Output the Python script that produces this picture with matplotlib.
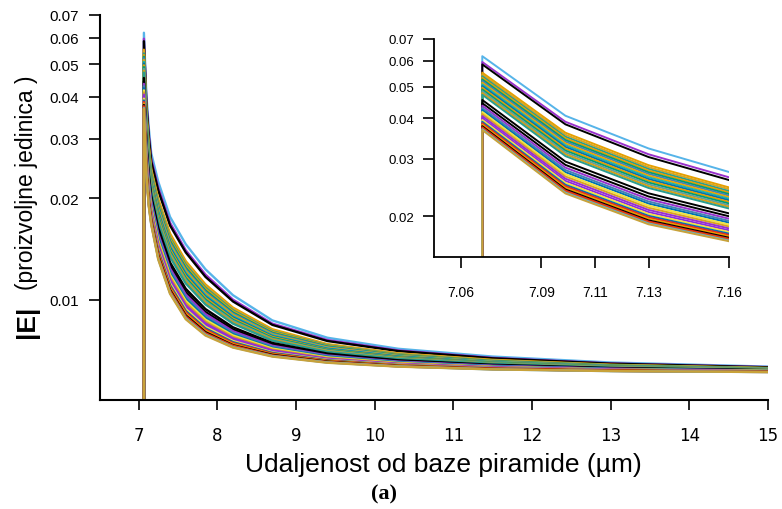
import matplotlib
matplotlib.use('Agg')
import matplotlib.pyplot as plt

# distance from the pyramid base (um); first point repeated: field is zero inside
x_um = [7.068, 7.068, 7.099, 7.13, 7.161, 7.25, 7.4, 7.6, 7.85, 8.2, 8.7, 9.4, 10.3, 11.5, 13.0, 15.0]

# |E| for each simulated case (arbitrary units)
field_curves = [
    [0.0, 0.0620, 0.0407, 0.0323, 0.0272, 0.0224, 0.0176, 0.0146, 0.0123, 0.0103, 0.00867, 0.00770, 0.00714, 0.00677, 0.00650, 0.00632],
    [0.0, 0.0595, 0.0390, 0.0310, 0.0262, 0.0215, 0.0169, 0.0140, 0.01186, 0.00999, 0.00848, 0.00758, 0.00706, 0.00671, 0.00646, 0.00630],
    [0.0, 0.0585, 0.0383, 0.0304, 0.0257, 0.0211, 0.0166, 0.0138, 0.01168, 0.00987, 0.00841, 0.00753, 0.00703, 0.00669, 0.00645, 0.00629],
    [0.0, 0.0552, 0.0361, 0.0287, 0.0244, 0.0199, 0.0157, 0.0130, 0.01109, 0.00946, 0.00816, 0.00737, 0.00692, 0.00662, 0.00640, 0.00626],
    [0.0, 0.0545, 0.0356, 0.0283, 0.0241, 0.01965, 0.01546, 0.01286, 0.01097, 0.00938, 0.00810, 0.00734, 0.00690, 0.00660, 0.00639, 0.00625],
    [0.0, 0.0538, 0.0351, 0.02794, 0.02378, 0.01939, 0.01526, 0.01269, 0.01084, 0.00929, 0.00805, 0.00731, 0.00687, 0.00658, 0.00638, 0.00625],
    [0.0, 0.0532, 0.03469, 0.02762, 0.02353, 0.01917, 0.01509, 0.01255, 0.01074, 0.00922, 0.00801, 0.00728, 0.00685, 0.00657, 0.00637, 0.00624],
    [0.0, 0.0526, 0.03428, 0.0273, 0.02328, 0.01895, 0.01491, 0.01241, 0.01063, 0.00914, 0.00796, 0.00725, 0.00683, 0.00656, 0.00636, 0.00623],
    [0.0, 0.0520, 0.03388, 0.02698, 0.02303, 0.01873, 0.01474, 0.01227, 0.01052, 0.00907, 0.00792, 0.00722, 0.00681, 0.00654, 0.00635, 0.00623],
    [0.0, 0.0514, 0.03347, 0.02666, 0.02278, 0.01851, 0.01457, 0.01214, 0.01042, 0.00900, 0.00787, 0.00719, 0.00680, 0.00653, 0.00634, 0.00622],
    [0.0, 0.0508, 0.03306, 0.02635, 0.02253, 0.01829, 0.01440, 0.01200, 0.01031, 0.00892, 0.00783, 0.00716, 0.00678, 0.00652, 0.00634, 0.00622],
    [0.0, 0.0502, 0.03265, 0.02602, 0.02228, 0.01807, 0.01423, 0.01186, 0.01020, 0.00885, 0.00778, 0.00713, 0.00676, 0.00650, 0.00633, 0.00621],
    [0.0, 0.0496, 0.03224, 0.02571, 0.02203, 0.01785, 0.01406, 0.01172, 0.01010, 0.00877, 0.00774, 0.00710, 0.00674, 0.00649, 0.00632, 0.00621],
    [0.0, 0.0490, 0.03183, 0.02539, 0.02178, 0.01763, 0.01389, 0.01158, 0.00999, 0.00870, 0.00769, 0.00708, 0.00672, 0.00648, 0.00631, 0.00620],
    [0.0, 0.0484, 0.03142, 0.02507, 0.02153, 0.01741, 0.01371, 0.01144, 0.00988, 0.00863, 0.00764, 0.00705, 0.00670, 0.00646, 0.00630, 0.00620],
    [0.0, 0.0478, 0.03101, 0.02475, 0.02128, 0.01719, 0.01354, 0.01130, 0.00978, 0.00855, 0.00760, 0.00702, 0.00668, 0.00645, 0.00629, 0.00619],
    [0.0, 0.0472, 0.03060, 0.02443, 0.02103, 0.01697, 0.01337, 0.01116, 0.00967, 0.00848, 0.00755, 0.00699, 0.00666, 0.00644, 0.00628, 0.00618],
    [0.0, 0.0455, 0.02944, 0.02353, 0.02032, 0.01635, 0.01289, 0.01076, 0.00937, 0.00827, 0.00743, 0.00691, 0.00660, 0.00640, 0.00626, 0.00617],
    [0.0, 0.0445, 0.02876, 0.02300, 0.01991, 0.01598, 0.01260, 0.01053, 0.00919, 0.00815, 0.00735, 0.00686, 0.00657, 0.00637, 0.00624, 0.00616],
    [0.0, 0.0437, 0.02821, 0.02257, 0.01957, 0.01569, 0.01237, 0.01034, 0.00905, 0.00805, 0.00729, 0.00682, 0.00654, 0.00636, 0.00623, 0.00615],
    [0.0, 0.0430, 0.02773, 0.02220, 0.01928, 0.01543, 0.01217, 0.01018, 0.00892, 0.00796, 0.00724, 0.00679, 0.00652, 0.00634, 0.00622, 0.00615],
    [0.0, 0.0424, 0.02732, 0.02188, 0.01903, 0.01521, 0.01200, 0.01004, 0.00882, 0.00789, 0.00719, 0.00676, 0.00650, 0.00633, 0.00621, 0.00614],
    [0.0, 0.0418, 0.02691, 0.02156, 0.01878, 0.01499, 0.01183, 0.00990, 0.00871, 0.00782, 0.00715, 0.00673, 0.00648, 0.00631, 0.00620, 0.00614],
    [0.0, 0.0412, 0.02650, 0.02124, 0.01853, 0.01477, 0.01166, 0.00976, 0.00860, 0.00774, 0.00710, 0.00670, 0.00646, 0.00630, 0.00619, 0.00613],
    [0.0, 0.0406, 0.02609, 0.02092, 0.01828, 0.01455, 0.01149, 0.00962, 0.00850, 0.00767, 0.00706, 0.00667, 0.00644, 0.00629, 0.00619, 0.00612],
    [0.0, 0.0400, 0.02568, 0.02060, 0.01803, 0.01433, 0.01131, 0.00948, 0.00839, 0.00759, 0.00701, 0.00664, 0.00642, 0.00627, 0.00618, 0.00612],
    [0.0, 0.0395, 0.02534, 0.02034, 0.01782, 0.01415, 0.01117, 0.00937, 0.00830, 0.00753, 0.00697, 0.00662, 0.00641, 0.00626, 0.00617, 0.00611],
    [0.0, 0.0390, 0.02500, 0.02007, 0.01762, 0.01397, 0.01103, 0.00925, 0.00821, 0.00747, 0.00694, 0.00660, 0.00639, 0.00625, 0.00616, 0.00611],
    [0.0, 0.0386, 0.02473, 0.01986, 0.01745, 0.01382, 0.01091, 0.00916, 0.00814, 0.00742, 0.00691, 0.00658, 0.00638, 0.00624, 0.00616, 0.00611],
    [0.0, 0.0382, 0.02446, 0.01965, 0.01728, 0.01367, 0.01080, 0.00907, 0.00807, 0.00737, 0.00688, 0.00656, 0.00637, 0.00623, 0.00615, 0.00610],
    [0.0, 0.0378, 0.02418, 0.01943, 0.01712, 0.01353, 0.01069, 0.00897, 0.00800, 0.00732, 0.00685, 0.00654, 0.00635, 0.00622, 0.00614, 0.00610],
    [0.0, 0.0375, 0.02398, 0.01927, 0.01699, 0.01342, 0.01060, 0.00890, 0.00794, 0.00729, 0.00682, 0.00652, 0.00634, 0.00622, 0.00614, 0.00610],
    [0.0, 0.0372, 0.02377, 0.01911, 0.01687, 0.01331, 0.01051, 0.00883, 0.00789, 0.00725, 0.00680, 0.00651, 0.00633, 0.00621, 0.00614, 0.00609],
    [0.0, 0.0370, 0.02364, 0.01901, 0.01678, 0.01323, 0.01046, 0.00879, 0.00786, 0.00722, 0.00679, 0.00650, 0.00633, 0.00620, 0.00613, 0.00609],
    [0.0, 0.0368, 0.02350, 0.01890, 0.01670, 0.01316, 0.01040, 0.00874, 0.00782, 0.00720, 0.00677, 0.00649, 0.00632, 0.00620, 0.00613, 0.00609],
]

line_colors = ['#56B4E9', '#9932CC', '#000000', '#E69F00', '#DAA520', '#2A9D8F', '#E69F00',
               '#009E73', '#4682B4', '#F0A500', '#20B2AA', '#0072B2', '#E69F00', '#009E73',
               '#5F9EA0', '#D4A017', '#2A9D8F', '#000000', '#000000', '#9932CC', '#4682B4',
               '#0072B2', '#F0E442', '#DAA520', '#9932CC', '#8A2BE2', '#F0E442', '#0072B2',
               '#E8291C', '#E69F00', '#000000', '#E8291C', '#D55E00', '#56B4E9', '#C8A23A']

main_xticks = [7, 8, 9, 10, 11, 12, 13, 14, 15]
main_yticks = [0.01, 0.02, 0.03, 0.04, 0.05, 0.06, 0.07]
inset_xticks = [7.06, 7.09, 7.11, 7.13, 7.16]
inset_yticks = [0.02, 0.03, 0.04, 0.05, 0.06, 0.07]

sans = 'Liberation Sans'

fig = plt.figure(figsize=(7.82, 5.10), dpi=100)

# main panel
ax = fig.add_axes([100 / 782, 109 / 510, 668 / 782, 385 / 510])
for vals, col in zip(field_curves, line_colors):
    ax.plot(x_um, vals, color=col, lw=1.7)
ax.set_yscale('log')
ax.set_xlim(6.51, 15)
ax.set_ylim(0.00503, 0.07)
ax.set_xticks(main_xticks)
ax.set_xticklabels([str(t) for t in main_xticks], fontsize=12)
ax.set_yticks(main_yticks)
ax.set_yticklabels(['%.2f' % t for t in main_yticks], family=sans, fontsize=11)
ax.minorticks_off()
ax.tick_params(axis='x', length=7, width=1.2, pad=12)
ax.tick_params(axis='y', length=8, width=1.2, pad=7)
for s in ['top', 'right']:
    ax.spines[s].set_visible(False)
for s in ['left', 'bottom']:
    ax.spines[s].set_linewidth(1.5)

# zoomed inset near the pyramid
axi = fig.add_axes([434 / 782, 252 / 510, 295 / 782, 218 / 510])
for vals, col in zip(field_curves, line_colors):
    axi.plot(x_um, vals, color=col, lw=1.4)
axi.set_yscale('log')
axi.set_xlim(7.05, 7.16)
axi.set_ylim(0.015, 0.07)
axi.set_xticks(inset_xticks)
axi.set_xticklabels(['%.2f' % t for t in inset_xticks], family=sans, fontsize=10)
axi.set_yticks(inset_yticks)
axi.set_yticklabels(['%.2f' % t for t in inset_yticks], family=sans, fontsize=9.5)
axi.minorticks_off()
axi.tick_params(axis='x', length=8, width=1.2, pad=12)
axi.tick_params(axis='y', length=8, width=1.2, pad=6)
for s in ['top', 'right']:
    axi.spines[s].set_visible(False)
for s in ['left', 'bottom']:
    axi.spines[s].set_linewidth(1.3)

# labels
fig.text(443 / 782, 1 - 465 / 510, 'Udaljenost od baze piramide (µm)', ha='center', va='center',
         family=sans, fontsize=19)
fig.text(27 / 782, 1 - 322 / 510, '|E|', rotation=90, ha='center', va='center',
         family=sans, fontsize=19, fontweight='bold')
fig.text(27 / 782, 1 - 183 / 510, '(proizvoljne jedinica )', rotation=90, ha='center', va='center',
         family=sans, fontsize=16.5)
fig.text(384 / 782, 1 - 494 / 510, '(a)', ha='center', va='center',
         family='Liberation Serif', fontsize=16, fontweight='bold')

fig.savefig('out.png', dpi=100)
